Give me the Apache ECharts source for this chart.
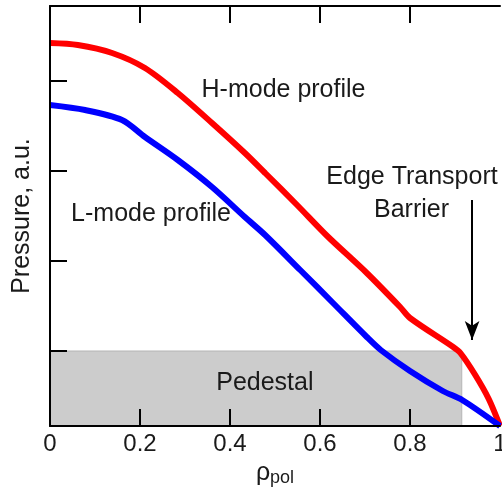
<!DOCTYPE html>
<html><head><meta charset="utf-8">
<script src="https://cdn.jsdelivr.net/npm/echarts@6/dist/echarts.min.js"></script>
<style>html,body{margin:0;padding:0;background:#fff}#c{width:502px;height:490px}</style>
</head><body><div id="c"></div>
<script>
// H-mode profile (red)
const rhoH = [0, 0.062, 0.138, 0.211, 0.284, 0.36, 0.433, 0.478, 0.549, 0.616, 0.704, 0.778, 0.8, 0.896, 0.912, 0.945, 0.975, 1];
const pH   = [3.83, 3.81, 3.73, 3.58, 3.33, 3.03, 2.73, 2.53, 2.21, 1.90, 1.53, 1.19, 1.08, 0.79, 0.73, 0.51, 0.27, 0];
// L-mode profile (blue)
const rhoL = [0, 0.078, 0.16, 0.211, 0.284, 0.36, 0.433, 0.478, 0.556, 0.629, 0.704, 0.735, 0.8, 0.873, 0.916, 1];
const pL   = [3.21, 3.16, 3.06, 2.89, 2.66, 2.39, 2.09, 1.91, 1.56, 1.23, 0.89, 0.76, 0.55, 0.35, 0.26, 0];
// axis ticks
const xTickValues = [0.2, 0.4, 0.6, 0.8];
const xLabelValues = [0, 0.2, 0.4, 0.6, 0.8, 1];
const yTickValues = [0.75, 1.65, 2.55, 3.45];
// pedestal region and ETB arrow (data units)
const pedestalRho = 0.915;
const pedestalTop = 0.75;
const arrowRho = 0.938;
const arrowFrom = 2.26;
const arrowTo = 0.86;

const FONT = '"Liberation Sans", Arial, sans-serif';
const TXT = '#1a1a1a';
const chart = echarts.init(document.getElementById('c'), null, {renderer: 'canvas'});
const axisLineStyle = {color: '#000', width: 2};

function textEl(str, x, y) {
  return {type: 'text', x: x, y: y, z: 20, style: {text: str, fontSize: 25, fontFamily: FONT, fill: TXT,
    align: 'center', verticalAlign: 'middle', textAlign: 'center', textVerticalAlign: 'middle'}};
}

const option = {
  animation: false,
  backgroundColor: '#fff',
  grid: {left: 50, right: 2, top: 6, bottom: 64, containLabel: false, outerBoundsMode: 'none'},
  xAxis: [
    {
      type: 'value', position: 'bottom', min: 0, max: 1, interval: 0.2, z: 10,
      axisLine: {show: true, onZero: false, lineStyle: axisLineStyle},
      axisTick: {show: true, inside: true, length: 17, lineStyle: {color: '#000', width: 2}, customValues: xTickValues},
      axisLabel: {show: true, color: TXT, fontSize: 24, fontFamily: FONT, margin: 6, customValues: xLabelValues,
        formatter: v => String(v)},
      splitLine: {show: false},
      name: '{a|ρ}{b|pol}', nameLocation: 'middle', nameGap: 33,
      nameTextStyle: {rich: {
        a: {fontSize: 25, fontFamily: FONT, color: TXT},
        b: {fontSize: 18, fontFamily: FONT, color: TXT, padding: [9, 0, 0, 0]}
      }}
    },
    {
      type: 'value', position: 'top', min: 0, max: 1, interval: 0.2, z: 10,
      axisLine: {show: true, onZero: false, lineStyle: axisLineStyle},
      axisTick: {show: true, inside: true, length: 17, lineStyle: {color: '#000', width: 2}, customValues: xTickValues},
      axisLabel: {show: false},
      splitLine: {show: false}
    }
  ],
  yAxis: {
    type: 'value', min: 0, max: 4.2, z: 10,
    axisLine: {show: true, onZero: false, lineStyle: axisLineStyle},
    axisTick: {show: true, inside: true, length: 17, lineStyle: {color: '#000', width: 2}, customValues: yTickValues},
    axisLabel: {show: false},
    splitLine: {show: false},
    name: 'Pressure, a.u.', nameLocation: 'middle', nameGap: 15, nameRotate: 90,
    nameTextStyle: {fontSize: 25, fontFamily: FONT, color: TXT}
  },
  series: [
    {
      name: 'pedestal', type: 'line', data: [[0, 0]], showSymbol: false, silent: true,
      lineStyle: {opacity: 0}, z: 1,
      markArea: {
        silent: true,
        itemStyle: {color: '#cccccc', borderColor: '#b4b4b4', borderWidth: 1},
        label: {show: true, position: 'inside', formatter: 'Pedestal', fontSize: 25, fontFamily: FONT, color: TXT, offset: [9, -5]},
        data: [[{coord: [0, 0]}, {coord: [pedestalRho, pedestalTop]}]]
      }
    },
    {
      name: 'H-mode', type: 'line', data: rhoH.map((r, i) => [r, pH[i]]),
      showSymbol: false, smooth: 0.3, z: 3,
      lineStyle: {color: '#ff0000', width: 6}
    },
    {
      name: 'L-mode', type: 'line', data: rhoL.map((r, i) => [r, pL[i]]),
      showSymbol: false, smooth: 0.3, z: 3,
      lineStyle: {color: '#0000ff', width: 6}
    },
    {
      name: 'arrow', type: 'line', data: [[0, 0]], showSymbol: false, silent: true,
      lineStyle: {opacity: 0}, z: 4,
      markLine: {
        silent: true, animation: false,
        symbol: ['none', 'arrow'], symbolSize: [11, 19],
        lineStyle: {color: '#000', width: 2, type: 'solid'},
        label: {show: false},
        data: [[{coord: [arrowRho, arrowFrom]}, {coord: [arrowRho, arrowTo]}]]
      }
    }
  ],
  graphic: [
    textEl('H-mode profile', 283.5, 90),
    textEl('L-mode profile', 151, 214),
    textEl('Edge Transport', 412, 177),
    textEl('Barrier', 411.5, 210)
  ]
};
chart.setOption(option);
</script>
</body></html>
